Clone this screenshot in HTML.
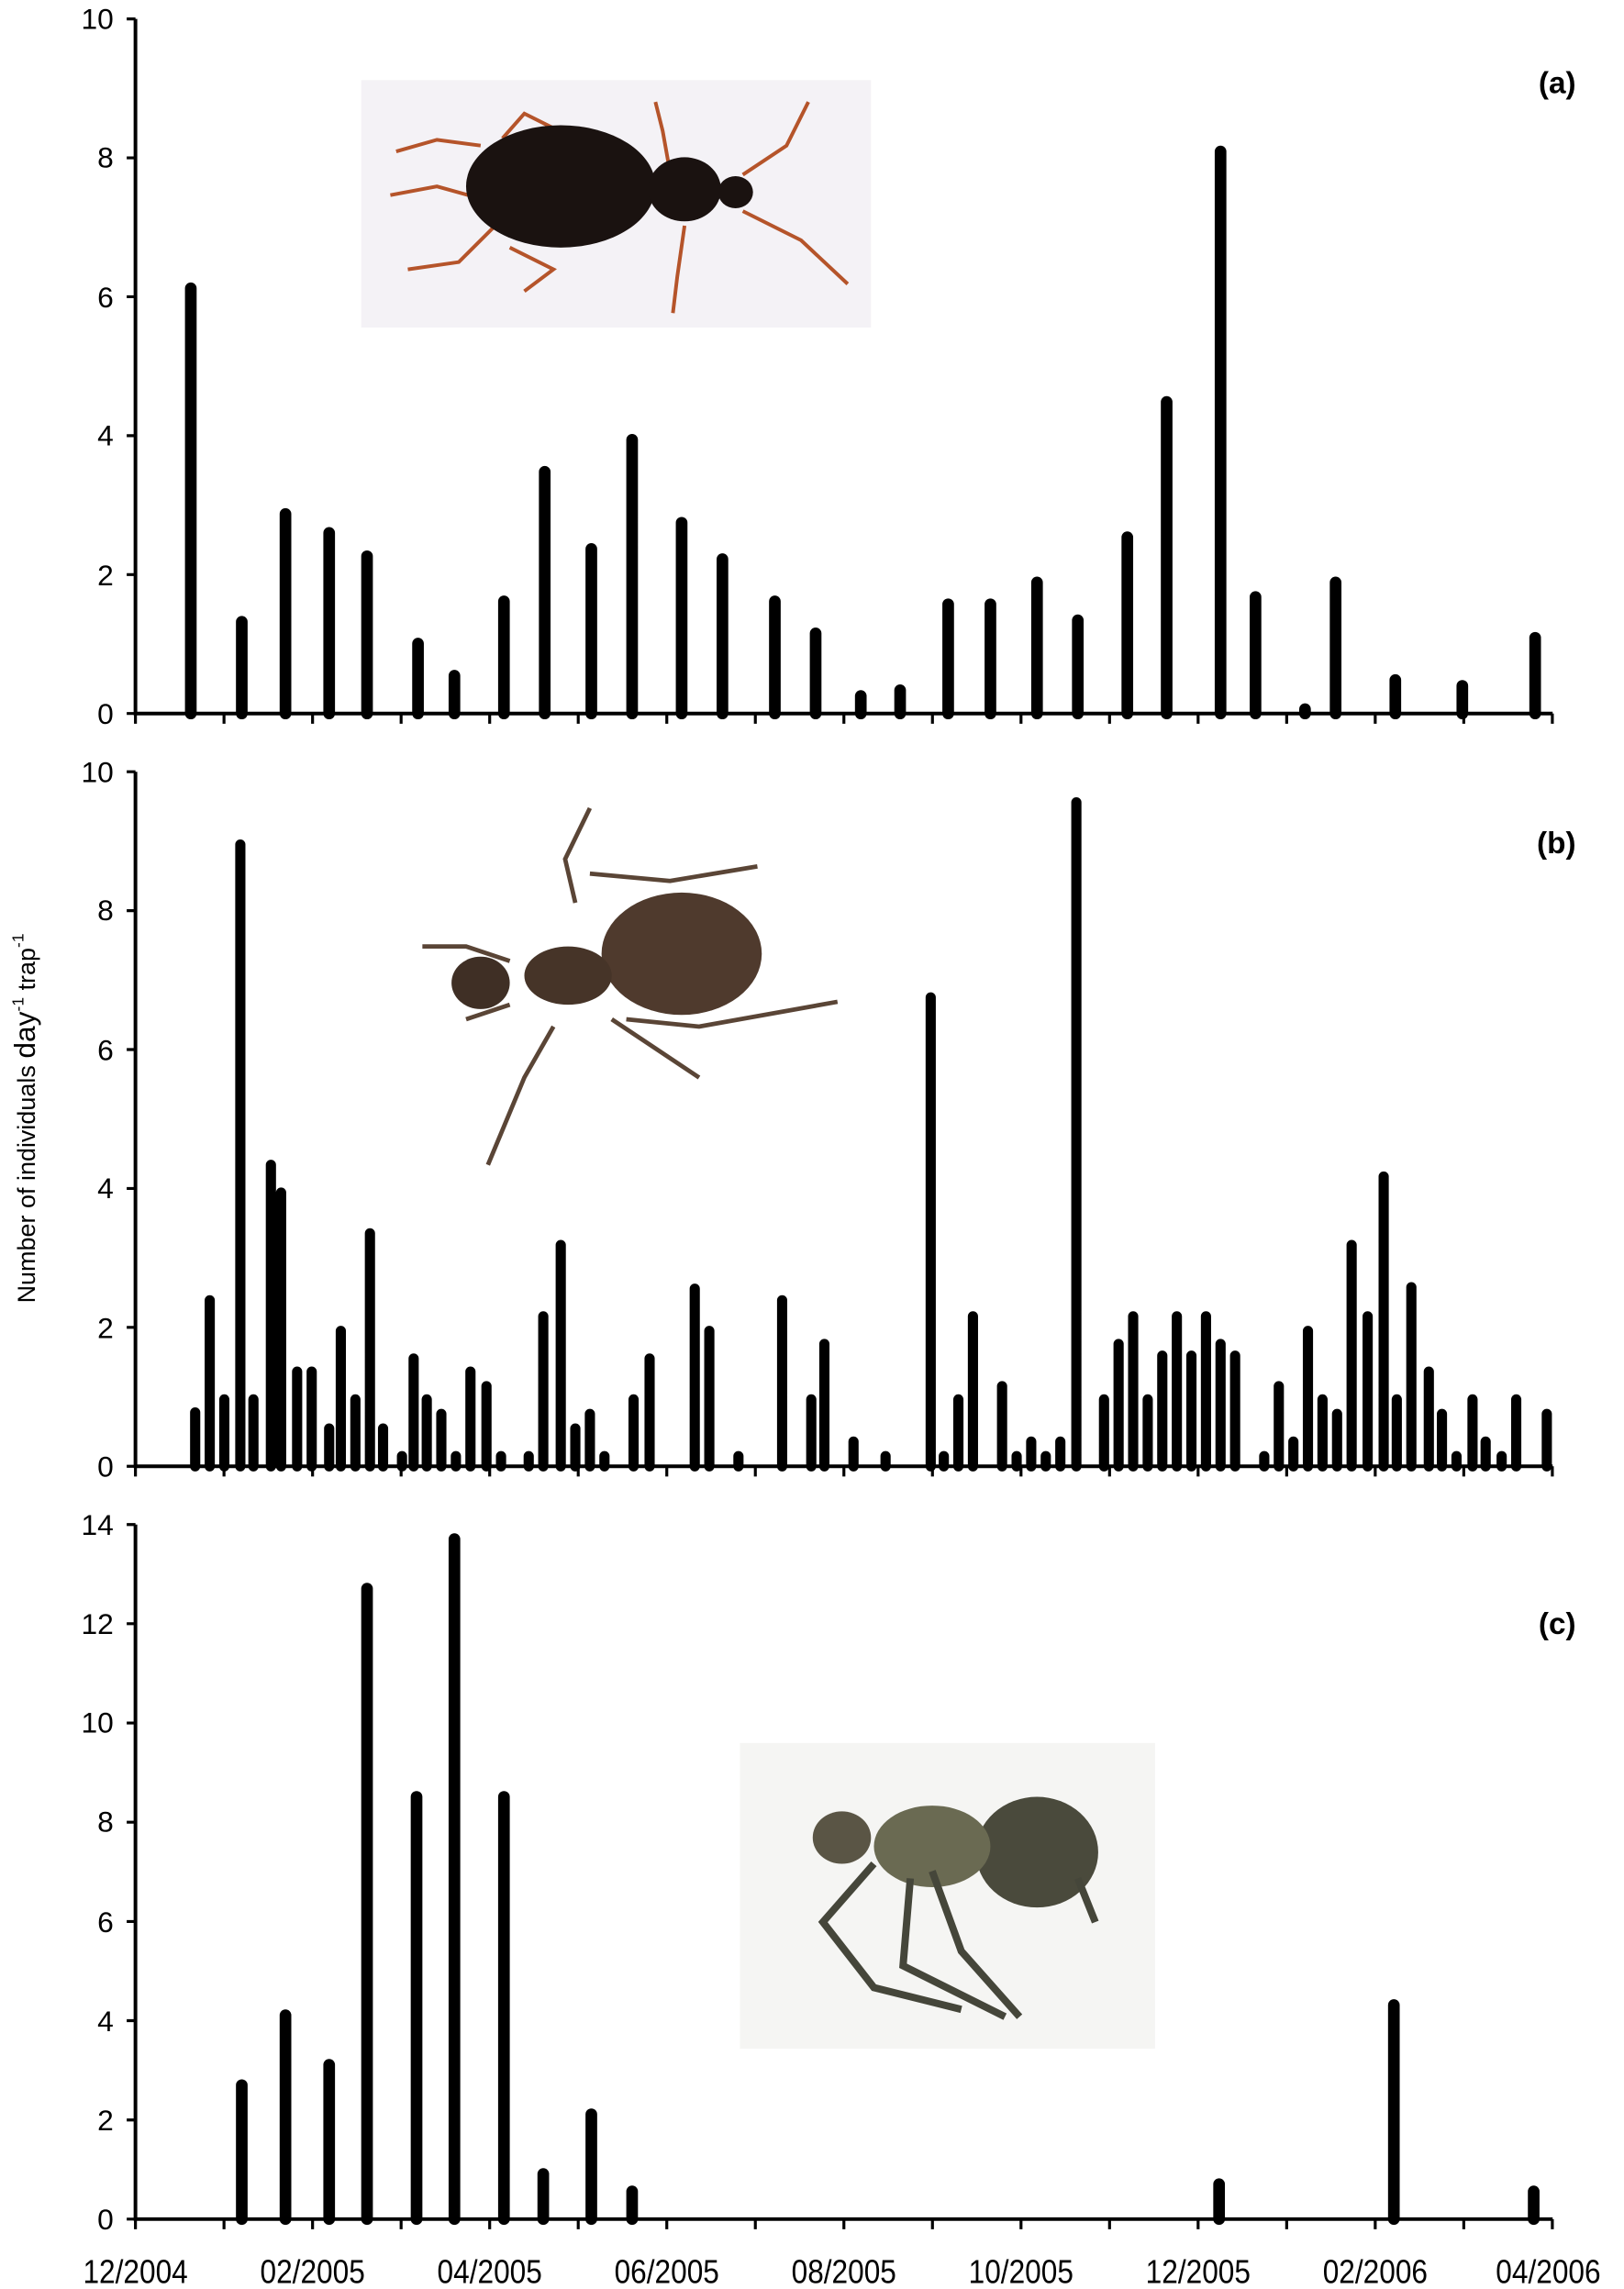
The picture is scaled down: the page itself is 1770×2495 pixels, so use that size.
<!DOCTYPE html>
<html><head><meta charset="utf-8"><style>
html,body{margin:0;padding:0;background:#fff;}
svg{display:block;}
text{font-family:"Liberation Sans",Arial,sans-serif;fill:#000;}
</style></head><body>
<svg width="1770" height="2495" viewBox="0 0 1115 1572" preserveAspectRatio="none" xmlns="http://www.w3.org/2000/svg">
<rect width="1115" height="1572" fill="#fff"/>

<rect x="248" y="55" width="350" height="170" fill="#f4f2f6"/>
<g stroke="#b5542a" stroke-width="2.5" fill="none">
<path d="M330 100 L300 96 L272 104"/><path d="M325 135 L300 128 L268 134"/><path d="M340 155 L315 180 L280 185"/>
<path d="M345 95 L360 78 L380 88"/><path d="M460 118 L455 90 L450 70"/><path d="M470 155 L465 190 L462 215"/>
<path d="M510 120 L540 100 L555 70"/><path d="M510 145 L550 165 L582 195"/><path d="M350 170 L380 185 L360 200"/>
</g>
<ellipse cx="385" cy="128" rx="65" ry="42" fill="#1a1210"/>
<ellipse cx="470" cy="130" rx="25" ry="22" fill="#1a1210"/>
<ellipse cx="505" cy="132" rx="12" ry="11" fill="#1a1210"/>

<g stroke="#5a4536" stroke-width="3" fill="none">
<path d="M395 620 L388 590 L405 555"/><path d="M405 600 L460 605 L520 595"/><path d="M350 660 L320 650 L290 650"/>
<path d="M430 700 L480 705 L575 688"/><path d="M420 700 L450 720 L480 740"/><path d="M380 705 L360 740 L335 800"/><path d="M350 690 L320 700"/>
</g>
<ellipse cx="468" cy="655" rx="55" ry="42" fill="#4f3a2d"/>
<ellipse cx="390" cy="670" rx="30" ry="20" fill="#463428"/>
<ellipse cx="330" cy="675" rx="20" ry="18" fill="#3f2f25"/>

<rect x="508" y="1197" width="285" height="210" fill="#f5f5f3"/>
<ellipse cx="712" cy="1272" rx="42" ry="38" fill="#4a4a3c"/>
<ellipse cx="640" cy="1268" rx="40" ry="28" fill="#6a6a52"/>
<ellipse cx="578" cy="1262" rx="20" ry="18" fill="#5a5545"/>
<g stroke="#45463a" stroke-width="5" fill="none"><path d="M600 1280 L565 1320 L600 1365 L660 1380"/><path d="M625 1290 L620 1350 L690 1385"/><path d="M640 1285 L660 1340 L700 1385"/><path d="M740 1290 L752 1320"/></g>

<text transform="translate(24,768) rotate(-90)" text-anchor="middle" font-size="17">Number of individuals <tspan font-size="20">day</tspan><tspan font-size="11" dy="-8">-1</tspan><tspan dy="8"> trap</tspan><tspan font-size="11" dy="-8">-1</tspan></text>

<text x="1082" y="64" font-size="21" font-weight="bold" text-anchor="end">(a)</text>
<text x="1082" y="586" font-size="21" font-weight="bold" text-anchor="end">(b)</text>
<text x="1082" y="1122" font-size="21" font-weight="bold" text-anchor="end">(c)</text>

<g stroke="#000" stroke-width="2.5" fill="none">
<path d="M93 13 V490 H1066"/>
<path d="M93 530 V1007 H1066"/>
<path d="M93 1047 V1524 H1066"/>
</g>
<g stroke="#000" stroke-width="2">
<path d="M87 13H93M87 108.4H93M87 203.8H93M87 299.2H93M87 394.6H93M87 490H93"/>
<path d="M87 530H93M87 625.4H93M87 720.8H93M87 816.2H93M87 911.6H93M87 1007H93"/>
<path d="M87 1047H93M87 1115.1H93M87 1183.3H93M87 1251.4H93M87 1319.6H93M87 1387.7H93M87 1455.9H93M87 1524H93"/>
</g>
<g stroke="#000" stroke-width="2">
<path d="M93 490v7M153.8 490v7M214.6 490v7M275.4 490v7M336.2 490v7M397 490v7M457.8 490v7M518.6 490v7M579.4 490v7M640.2 490v7M701 490v7M761.8 490v7M822.6 490v7M883.4 490v7M944.2 490v7M1005 490v7M1065.8 490v7"/>
<path d="M93 1007v7M153.8 1007v7M214.6 1007v7M275.4 1007v7M336.2 1007v7M397 1007v7M457.8 1007v7M518.6 1007v7M579.4 1007v7M640.2 1007v7M701 1007v7M761.8 1007v7M822.6 1007v7M883.4 1007v7M944.2 1007v7M1005 1007v7M1065.8 1007v7"/>
<path d="M93 1524v7M153.8 1524v7M214.6 1524v7M275.4 1524v7M336.2 1524v7M397 1524v7M457.8 1524v7M518.6 1524v7M579.4 1524v7M640.2 1524v7M701 1524v7M761.8 1524v7M822.6 1524v7M883.4 1524v7M944.2 1524v7M1005 1524v7M1065.8 1524v7"/>
</g>

<g font-size="20" text-anchor="end">
<text x="78" y="20">10</text><text x="78" y="115">8</text><text x="78" y="211">6</text><text x="78" y="306">4</text><text x="78" y="402">2</text><text x="78" y="497">0</text>
<text x="78" y="537">10</text><text x="78" y="632">8</text><text x="78" y="728">6</text><text x="78" y="823">4</text><text x="78" y="919">2</text><text x="78" y="1014">0</text>
<text x="78" y="1054">14</text><text x="78" y="1122">12</text><text x="78" y="1190">10</text><text x="78" y="1258">8</text><text x="78" y="1327">6</text><text x="78" y="1395">4</text><text x="78" y="1463">2</text><text x="78" y="1531">0</text>
</g>

<g font-size="23" text-anchor="middle">
<text x="93" y="1568" textLength="72" lengthAdjust="spacingAndGlyphs">12/2004</text>
<text x="214.6" y="1568" textLength="72" lengthAdjust="spacingAndGlyphs">02/2005</text>
<text x="336.2" y="1568" textLength="72" lengthAdjust="spacingAndGlyphs">04/2005</text>
<text x="457.8" y="1568" textLength="72" lengthAdjust="spacingAndGlyphs">06/2005</text>
<text x="579.4" y="1568" textLength="72" lengthAdjust="spacingAndGlyphs">08/2005</text>
<text x="701" y="1568" textLength="72" lengthAdjust="spacingAndGlyphs">10/2005</text>
<text x="822.6" y="1568" textLength="72" lengthAdjust="spacingAndGlyphs">12/2005</text>
<text x="944.2" y="1568" textLength="72" lengthAdjust="spacingAndGlyphs">02/2006</text>
<text x="1063" y="1568" textLength="72" lengthAdjust="spacingAndGlyphs">04/2006</text>
</g>

<g stroke="#000" stroke-width="8" stroke-linecap="round">
<path d="M131 490V198M166 490V427M196 490V353M226 490V366M252 490V382M287 490V442M312 490V464M346 490V413M374 490V324M406 490V377M434 490V302M468 490V359M496 490V384M532 490V413M560 490V435M591 490V478M618 490V474M651 490V415M680 490V415M712 490V400M740 490V426M774 490V369M801 490V276M838 490V104M862 490V410M896 490V487M917 490V400M958 490V467M1004 490V471M1054 490V438"/>
</g>
<g stroke="#000" stroke-width="7" stroke-linecap="round">
<path d="M134 1007V970M144 1007V893M154 1007V961M165 1007V580M174 1007V961M186 1007V800M193 1007V819M204 1007V942M214 1007V942M226 1007V981M234 1007V914M244 1007V961M254 1007V847M263 1007V981M276 1007V1000M284 1007V933M293 1007V961M303 1007V971M313 1007V1000M323 1007V942M334 1007V952M344 1007V1000M363 1007V1000M373 1007V904M385 1007V855M395 1007V981M405 1007V971M415 1007V1000M435 1007V961M446 1007V933M477 1007V885M487 1007V914M507 1007V1000M537 1007V893M557 1007V961M566 1007V923M586 1007V990M608 1007V1000M639 1007V685M648 1007V1000M658 1007V961M668 1007V904M688 1007V952M698 1007V1000M708 1007V990M718 1007V1000M728 1007V990M739 1007V551M758 1007V961M768 1007V923M778 1007V904M788 1007V961M798 1007V931M808 1007V904M818 1007V931M828 1007V904M838 1007V923M848 1007V931M868 1007V1000M878 1007V952M888 1007V990M898 1007V914M908 1007V961M918 1007V971M928 1007V855M939 1007V904M950 1007V808M959 1007V961M969 1007V884M981 1007V942M990 1007V971M1000 1007V1000M1011 1007V961M1020 1007V990M1031 1007V1000M1041 1007V961M1062 1007V971"/>
</g>
<g stroke="#000" stroke-width="8" stroke-linecap="round">
<path d="M166 1524V1432M196 1524V1384M226 1524V1418M252 1524V1091M286 1524V1234M312 1524V1057M346 1524V1234M373 1524V1493M406 1524V1452M434 1524V1505M837 1524V1500M957 1524V1377M1053 1524V1505"/>
</g>
</svg>
</body></html>
